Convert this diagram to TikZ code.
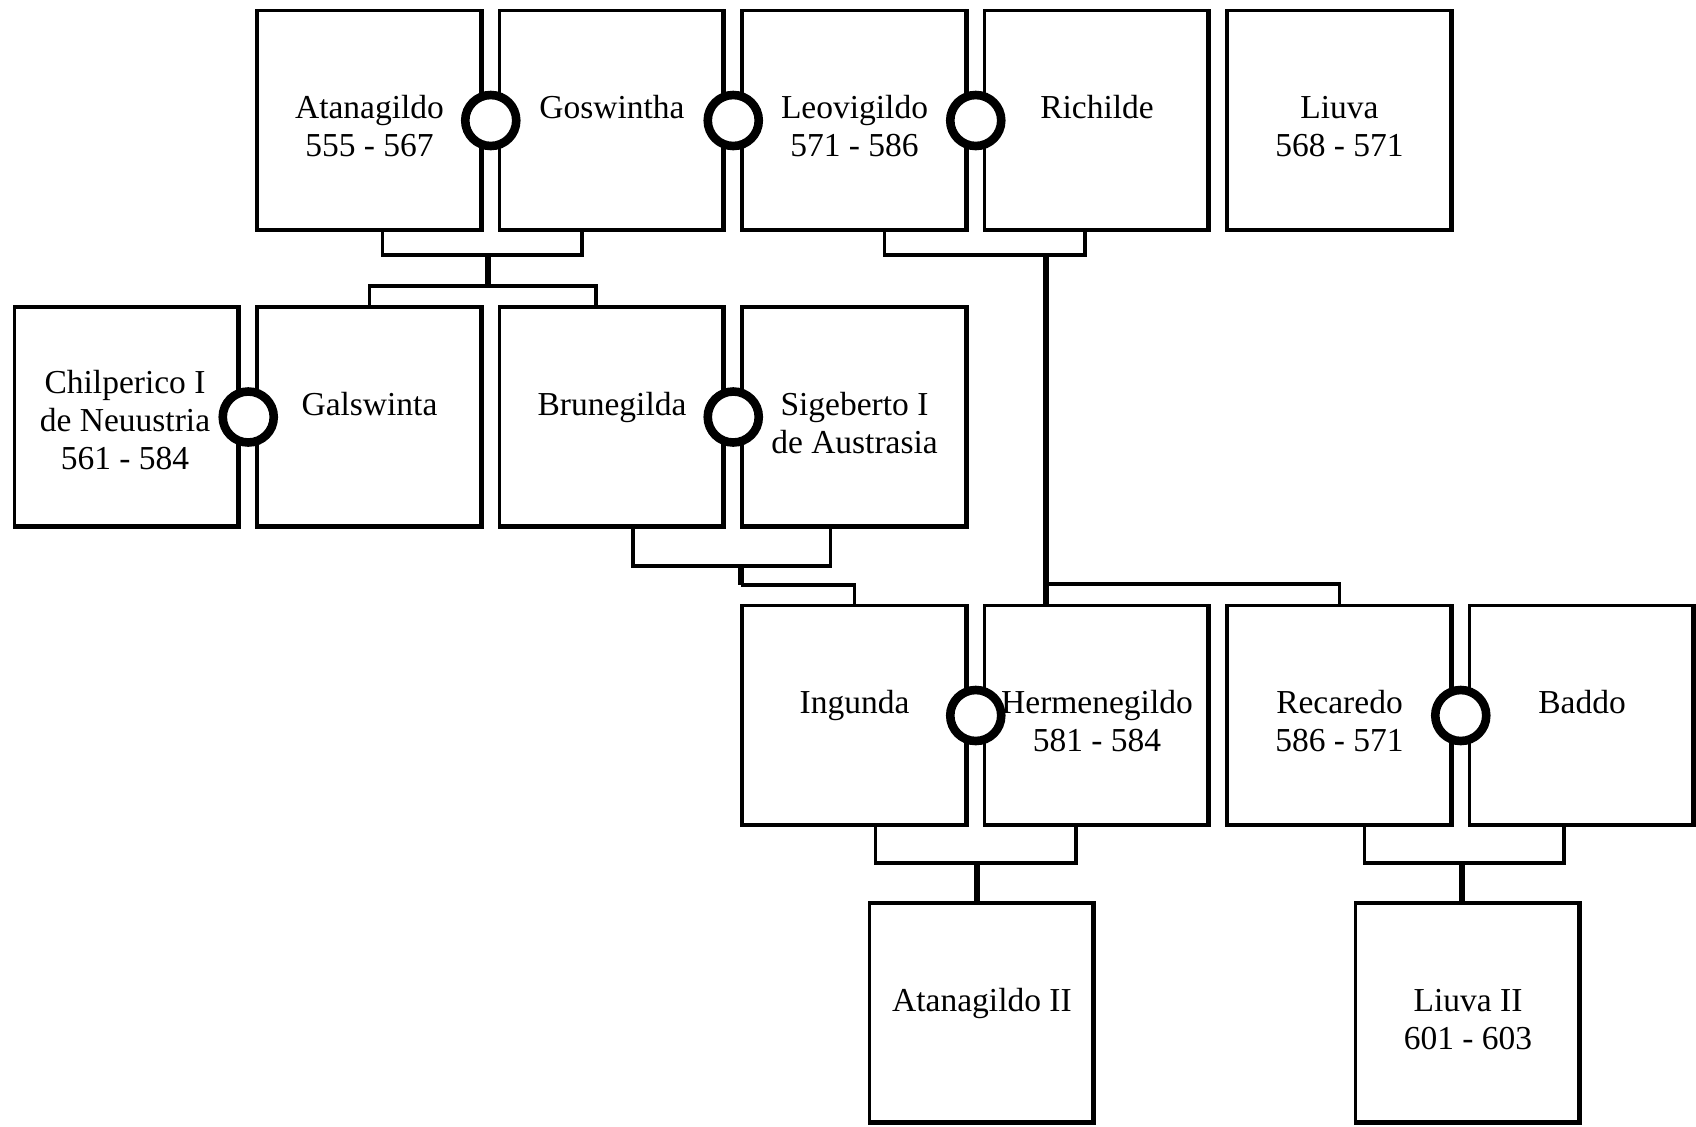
\documentclass[tikz,border=0pt]{standalone}
\usepackage{fontspec}
\setmainfont{Liberation Serif}
\usetikzlibrary{calc}
\newcommand\namelines[1]{\begin{tabular}[t]{@{}c@{}}#1\end{tabular}}
\begin{document}
\begin{tikzpicture}[x=0.5pt,y=-0.5pt,
  person/.style={draw, fill=white, line width=1.6pt, minimum width=112.5pt, minimum height=110pt, inner sep=0pt, outer sep=0pt},
  lbl/.style={font=\fontsize{16.75}{19}\selectfont, inner sep=0pt, anchor=base},
  ring/.style={circle, draw, fill=white, line width=4.3pt, minimum size=25.5pt, inner sep=0pt},
  conn/.style={line width=1.7pt},
  stem/.style={line width=2.7pt}]
\useasboundingbox (0,0) rectangle (1696,1126);
% boxes
\node[person] (ata) at (369.5,120.5) {};
\node[person] (gos) at (612,120.5) {};
\node[person] (leo) at (854.5,120.5) {};
\node[person] (ric) at (1097,120.5) {};
\node[person] (liu) at (1339.5,120.5) {};
\node[person] (chi) at (127,417) {};
\node[person] (gal) at (369.5,417) {};
\node[person] (bru) at (612,417) {};
\node[person] (sig) at (854.5,417) {};
\node[person] (ing) at (854.5,715.5) {};
\node[person] (her) at (1097,715.5) {};
\node[person] (rec) at (1339.5,715.5) {};
\node[person] (bad) at (1582,715.5) {};
\node[person] (ata2) at (982,1013) {};
\node[person] (liu2) at (1468,1013) {};
% heavier right and bottom edges
\foreach \n in {ata,gos,leo,ric,liu,chi,gal,bru,sig,ing,her,rec,bad,ata2,liu2}{
  \draw[line width=1.2pt] ([xshift=-1.1pt,yshift=0.8pt]\n.north east) -- ([xshift=-1.1pt,yshift=-0.8pt]\n.south east);
  \draw[line width=0.8pt] ([xshift=0.8pt,yshift=0.9pt]\n.south west) -- ([xshift=-0.8pt,yshift=0.9pt]\n.south east);
}
% texts
\node[lbl] (ata-t) at ($(ata.north)+(0,108)$) {\namelines{Atanagildo\\555 - 567}};
\node[lbl] (gos-t) at ($(gos.north)+(0,108)$) {\namelines{Goswintha}};
\node[lbl] (leo-t) at ($(leo.north)+(0,108)$) {\namelines{Leovigildo\\571 - 586}};
\node[lbl] (ric-t) at ($(ric.north)+(0,108)$) {\namelines{Richilde}};
\node[lbl] (liu-t) at ($(liu.north)+(0,108)$) {\namelines{Liuva\\568 - 571}};
\node[lbl] (chi-t) at ($(chi.north)+(-2,86)$) {\namelines{Chilperico I\\de Neuustria\\561 - 584}};
\node[lbl] (gal-t) at ($(gal.north)+(0,108)$) {\namelines{Galswinta}};
\node[lbl] (bru-t) at ($(bru.north)+(0,108)$) {\namelines{Brunegilda}};
\node[lbl] (sig-t) at ($(sig.north)+(0,108)$) {\namelines{Sigeberto I\\de Austrasia}};
\node[lbl] (ing-t) at ($(ing.north)+(0,108)$) {\namelines{Ingunda}};
\node[lbl] (her-t) at ($(her.north)+(0,108)$) {\namelines{Hermenegildo\\581 - 584}};
\node[lbl] (rec-t) at ($(rec.north)+(0,108)$) {\namelines{Recaredo\\586 - 571}};
\node[lbl] (bad-t) at ($(bad.north)+(0,108)$) {\namelines{Baddo}};
\node[lbl] (ata2-t) at ($(ata2.north)+(0,108)$) {\namelines{Atanagildo II}};
\node[lbl] (liu2-t) at ($(liu2.north)+(0,108)$) {\namelines{Liuva II\\601 - 603}};
% connectors: Atanagildo + Goswintha
\coordinate (agm) at (488,255);
\coordinate (agk) at (488,286);
\draw[conn] ($(ata.south)+(13,0)$) |- ($(gos.south)+(-30,24.5)$) -- ($(gos.south)+(-30,0)$);
\draw[stem] (agm) -- (agk);
\draw[conn] (gal.north) |- (agk) -| ($(bru.north)+(-16,0)$);
% Leovigildo + Richilde
\coordinate (lrm) at (1046,255);
\coordinate (lrk) at (1046,584);
\draw[conn] ($(leo.south)+(30,0)$) |- ($(ric.south)+(-12,24.5)$) -- ($(ric.south)+(-12,0)$);
\draw[stem] (lrm) -- (lrm |- her.north);
\draw[conn] (lrk) -| (rec.north);
% Brunegilda + Sigeberto
\coordinate (bsm) at (741,566);
\coordinate (bsk) at (741,585);
\draw[conn] ($(bru.south)+(21,0)$) |- ($(sig.south)+(-24,39)$) -- ($(sig.south)+(-24,0)$);
\draw[stem] (bsm) -- (bsk);
\draw[conn] (bsk) -| (ing.north);
% Ingunda + Hermenegildo
\coordinate (ihm) at (977,863);
\draw[conn] ($(ing.south)+(21,0)$) |- ($(her.south)+(-21,37.5)$) -- ($(her.south)+(-21,0)$);
\draw[stem] (ihm) -- (ihm |- ata2.north);
% Recaredo + Baddo
\coordinate (rbm) at (1462,863);
\draw[conn] ($(rec.south)+(25,0)$) |- ($(bad.south)+(-18,37.5)$) -- ($(bad.south)+(-18,0)$);
\draw[stem] (rbm) -- (rbm |- liu2.north);
% marriage rings
\node[ring] (m1) at ($(ata.east)!0.5!(gos.west)$) {};
\node[ring] (m2) at ($(gos.east)!0.5!(leo.west)$) {};
\node[ring] (m3) at ($(leo.east)!0.5!(ric.west)$) {};
\node[ring] (m4) at ($(chi.east)!0.5!(gal.west)$) {};
\node[ring] (m5) at ($(bru.east)!0.5!(sig.west)$) {};
\node[ring] (m6) at ($(ing.east)!0.5!(her.west)$) {};
\node[ring] (m7) at ($(rec.east)!0.5!(bad.west)$) {};
\end{tikzpicture}
\end{document}
